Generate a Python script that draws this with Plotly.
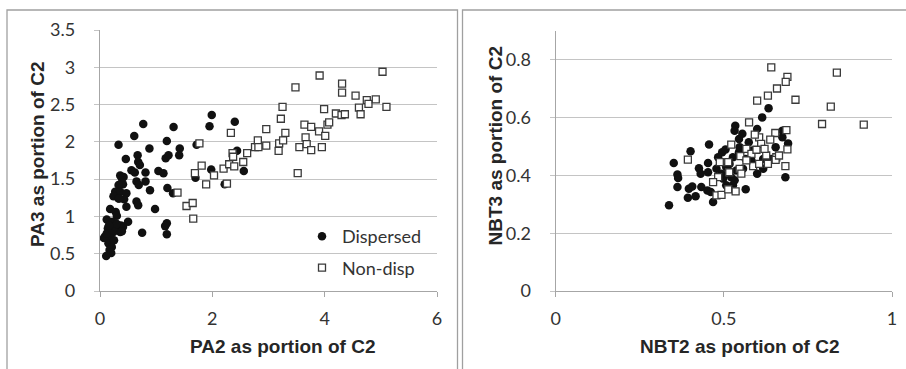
import plotly.graph_objects as go

# ---------------- data: left panel (PA) ----------------
pa_disp_x = [0.61,0.33,0.88,1.19,1.42,1.41,0.46,0.67,0.68,0.71,1.17,1.22,0.56,0.62,0.81,0.81,1.04,1.13,
             0.36,0.39,0.41,0.65,0.69,0.89,0.33,0.27,0.36,0.47,0.24,0.33,0.43,0.47,0.65,0.68,1.20,1.30,
             0.98,0.18,0.28,0.30,0.12,0.22,0.37,0.50,0.41,0.14,0.24,0.36,0.09,0.18,0.75,1.19,1.16,1.19,
             0.15,0.21,0.17,0.20,0.11,0.77,1.31,1.70,1.72,1.95,1.99,1.98,2.40,2.44,2.56,2.22,
             0.07,0.12,0.21,0.27,0.39,0.30,0.25,0.16,0.42,0.34]
pa_disp_y = [2.08,1.96,1.91,2.01,1.91,1.82,1.77,1.82,1.73,1.69,1.78,1.82,1.62,1.59,1.59,1.47,1.61,1.58,
             1.55,1.51,1.43,1.47,1.42,1.35,1.42,1.33,1.33,1.31,1.27,1.24,1.23,1.13,1.20,1.15,1.38,1.31,
             1.10,1.10,1.06,1.01,0.96,0.93,0.88,0.93,0.86,0.84,0.79,0.79,0.73,0.71,0.78,0.91,0.87,0.76,
             0.64,0.59,0.55,0.51,0.47,2.24,2.20,1.52,1.96,2.21,2.36,1.63,2.27,1.88,1.61,1.43,
             0.71,0.77,0.82,0.86,0.80,0.90,0.68,0.88,1.53,1.24]
pa_nd_x = [1.38,1.54,1.65,1.66,1.69,1.77,1.81,1.89,2.03,2.20,2.26,2.33,2.30,2.36,2.37,2.39,2.55,2.62,
           2.76,2.81,2.82,2.96,2.96,3.18,3.19,3.22,3.25,3.26,3.30,3.48,3.52,3.55,3.64,3.66,3.68,3.76,
           3.76,3.90,3.91,3.95,3.99,4.01,4.05,4.08,4.20,4.30,4.31,4.31,4.36,4.55,4.61,4.64,4.75,4.78,
           4.91,5.03,5.10]
pa_nd_y = [1.32,1.14,1.18,0.97,1.58,1.98,1.68,1.43,1.55,1.64,1.44,2.12,1.70,1.85,1.80,1.67,1.73,1.85,
           1.93,2.02,1.93,1.95,2.17,1.88,1.98,2.31,2.47,2.02,2.12,2.73,1.58,1.93,2.23,2.06,1.97,2.20,
           1.89,2.14,2.89,1.93,2.44,2.08,2.23,2.26,2.38,2.36,2.78,2.66,2.37,2.62,2.46,2.37,2.56,2.51,
           2.57,2.94,2.47]

# ---------------- data: right panel (NBT) ----------------
nbt_disp_x = [0.337,0.351,0.362,0.364,0.362,0.401,0.396,0.406,0.393,0.416,0.426,0.431,0.433,0.453,0.456,
              0.453,0.451,0.468,0.461,0.483,0.495,0.505,0.498,0.507,0.522,0.527,0.532,0.534,0.532,0.545,
              0.555,0.565,0.574,0.599,0.614,0.633,0.599,0.617,0.654,0.674,0.674,0.691,0.683,0.545,0.565,
              0.582,0.557,0.585,0.517,0.537,0.478,0.493,0.507,0.527,0.547,0.641,0.617]
nbt_disp_y = [0.297,0.443,0.403,0.391,0.360,0.484,0.354,0.362,0.323,0.328,0.425,0.406,0.360,0.443,0.507,
              0.411,0.348,0.308,0.343,0.463,0.480,0.490,0.389,0.429,0.394,0.366,0.383,0.572,0.555,0.526,
              0.544,0.352,0.515,0.561,0.601,0.633,0.406,0.423,0.498,0.555,0.532,0.511,0.394,0.480,0.457,
              0.452,0.423,0.486,0.440,0.417,0.423,0.406,0.366,0.463,0.498,0.457,0.457]
nbt_nd_x = [0.641,0.689,0.684,0.658,0.631,0.599,0.713,0.836,0.818,0.792,0.916,0.575,0.686,0.653,0.638,
            0.605,0.592,0.611,0.522,0.393,0.488,0.513,0.549,0.547,0.552,0.516,0.483,0.468,0.478,0.493,
            0.513,0.535,0.587,0.605,0.631,0.626,0.656,0.654,0.664,0.689,0.683,0.567,0.582,0.597,0.621,
            0.567]
nbt_nd_y = [0.774,0.741,0.724,0.701,0.676,0.659,0.662,0.756,0.638,0.578,0.576,0.584,0.557,0.547,0.524,
            0.532,0.541,0.509,0.507,0.455,0.446,0.446,0.467,0.423,0.406,0.411,0.394,0.377,0.331,0.333,
            0.352,0.345,0.432,0.440,0.440,0.469,0.463,0.454,0.469,0.490,0.432,0.492,0.475,0.489,0.492,
            0.452]

series_names = ["Dispersed", "Non-disp"]
pa_x_ticks = [0, 2, 4, 6]
pa_y_ticks = [0, 0.5, 1, 1.5, 2, 2.5, 3, 3.5]
nbt_x_ticks = [0, 0.5, 1]
nbt_y_ticks = [0, 0.2, 0.4, 0.6, 0.8]

W, H = 906, 369
GRID = "#C4C4C4"
AXIS = "#A6A6A6"
TICKFONT = dict(family="Lato, Open Sans, sans-serif", size=18, color="#333333")
TITLEFONT = dict(family="Liberation Sans, Arial, sans-serif", size=19, color="#262626")

dot = dict(symbol="circle", size=8.5, color="#111111", line=dict(width=0))
sq = dict(symbol="square", size=7, color="white", line=dict(width=1.3, color="#3a3a3a"))

fig = go.Figure()
fig.add_trace(go.Scatter(x=pa_disp_x, y=pa_disp_y, mode="markers", marker=dot,
                         name=series_names[0], legendgroup="a", xaxis="x", yaxis="y"))
fig.add_trace(go.Scatter(x=pa_nd_x, y=pa_nd_y, mode="markers", marker=sq,
                         name=series_names[1], legendgroup="b", xaxis="x", yaxis="y"))
fig.add_trace(go.Scatter(x=nbt_disp_x, y=nbt_disp_y, mode="markers", marker=dot,
                         name=series_names[0], showlegend=False, xaxis="x2", yaxis="y2"))
fig.add_trace(go.Scatter(x=nbt_nd_x, y=nbt_nd_y, mode="markers", marker=sq,
                         name=series_names[1], showlegend=False, xaxis="x2", yaxis="y2"))

def px_x(p):
    return p / W

def px_y(p):
    return 1 - p / H

common_x = dict(showgrid=False, zeroline=False, showline=True, linecolor=AXIS, linewidth=1.3,
                ticks="outside", ticklen=5, tickcolor=AXIS, tickwidth=1.3, tickfont=TICKFONT,
                ticklabelstandoff=6, automargin=False)
common_y = dict(showgrid=True, gridcolor=GRID, gridwidth=1.3, zeroline=False, showline=True,
                linecolor=AXIS, linewidth=1.3, ticks="outside", ticklen=5, tickcolor=GRID,
                tickwidth=1.3, tickfont=TICKFONT, ticklabelstandoff=15, automargin=False)

fig.update_layout(
    width=W, height=H, margin=dict(l=0, r=0, t=0, b=0, autoexpand=False),
    paper_bgcolor="white", plot_bgcolor="white",
    xaxis=dict(domain=[px_x(100), px_x(437)], range=[0, 6], tickvals=pa_x_ticks,
               anchor="y", **common_x),
    yaxis=dict(domain=[px_y(291), px_y(30)], range=[0, 3.5], tickvals=pa_y_ticks,
               anchor="x", **common_y),
    xaxis2=dict(domain=[px_x(555.7), px_x(892)], range=[0, 1], tickvals=nbt_x_ticks,
                anchor="y2", **common_x),
    yaxis2=dict(domain=[px_y(291), px_y(31)], range=[0, 0.9], tickvals=nbt_y_ticks,
                anchor="x2", **common_y),
    showlegend=True,
    legend=dict(x=px_x(302), y=px_y(218), xanchor="left", yanchor="top",
                bgcolor="rgba(0,0,0,0)", font=TICKFONT, tracegroupgap=5,
                itemwidth=30, traceorder="grouped"),
    shapes=[
        dict(type="rect", xref="paper", yref="paper", x0=px_x(7), x1=px_x(457.5),
             y0=-0.2, y1=px_y(10), line=dict(color="#A0A0A0", width=1.3)),
        dict(type="rect", xref="paper", yref="paper", x0=px_x(462.5), x1=1.2,
             y0=-0.2, y1=px_y(10), line=dict(color="#A0A0A0", width=1.3)),
    ],
    annotations=[
        dict(text="<b>PA2 as portion of C2</b>", xref="paper", yref="paper",
             x=px_x(282), y=px_y(346), showarrow=False, font=TITLEFONT,
             xanchor="center", yanchor="middle"),
        dict(text="<b>PA3 as portion of C2</b>", xref="paper", yref="paper",
             x=px_x(38), y=px_y(155), showarrow=False, font=TITLEFONT, textangle=-90,
             xanchor="center", yanchor="middle"),
        dict(text="<b>NBT2 as portion of C2</b>", xref="paper", yref="paper",
             x=px_x(739.5), y=px_y(346.5), showarrow=False, font=TITLEFONT,
             xanchor="center", yanchor="middle"),
        dict(text="<b>NBT3 as portion of C2</b>", xref="paper", yref="paper",
             x=px_x(494.5), y=px_y(145), showarrow=False, font=TITLEFONT, textangle=-90,
             xanchor="center", yanchor="middle"),
    ],
)

fig.write_html("out.html", config={"displayModeBar": False},
               post_script="document.body.style.margin='0';document.body.style.padding='0';")
